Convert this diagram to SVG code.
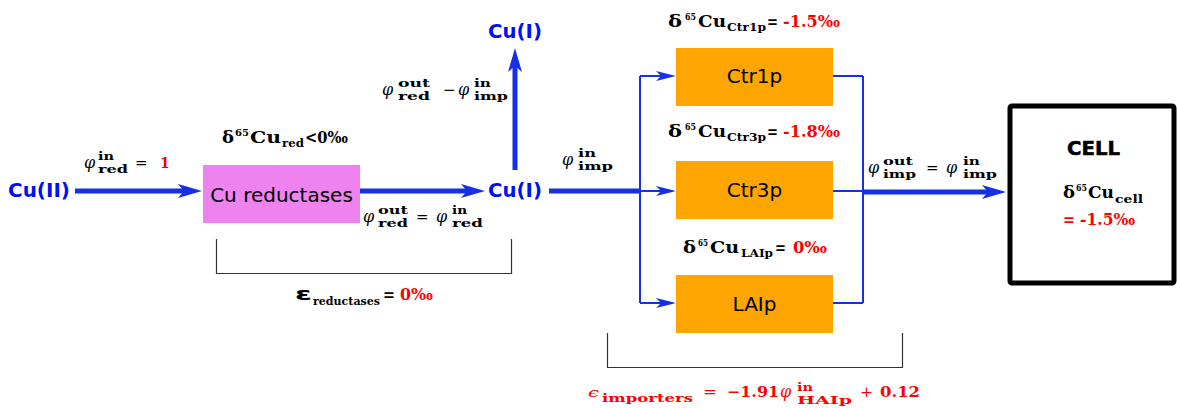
<svg xmlns="http://www.w3.org/2000/svg" width="1177" height="408" viewBox="0 0 1177 408">
<style>
.lbl{font-family:"DejaVu Sans",sans-serif;font-size:20px;fill:#000}
.cu{font-family:"DejaVu Sans",sans-serif;font-weight:bold;font-size:19px;fill:#0011EE}
.mi{font-family:"DejaVu Serif",serif;font-style:italic;font-size:16px;fill:#000}
.mb{font-family:"DejaVu Serif",serif;font-weight:bold;font-size:11px;fill:#000}
.op{font-family:"DejaVu Serif",serif;font-size:15px;fill:#000}
.db{font-family:"DejaVu Serif",serif;font-weight:bold;font-size:17px;fill:#000}
.ds{font-family:"DejaVu Serif",serif;font-weight:bold;font-size:10px;fill:#000}
.red{fill:#FF0000}
.thick{stroke:#1530E6;stroke-width:5;fill:none}
.thin{stroke:#1530E6;stroke-width:2;fill:none}
.brk{stroke:#333;stroke-width:1.2;fill:none}
</style>
<defs>
<marker id="ahT" markerUnits="userSpaceOnUse" markerWidth="24" markerHeight="14" refX="14" refY="7" orient="auto"><path d="M0,0 L24,7 L0,14 L6,7 z" fill="#1530E6"/></marker>
<marker id="ahS" markerUnits="userSpaceOnUse" markerWidth="20" markerHeight="10" refX="14" refY="5" orient="auto"><path d="M0,0 L20,5 L0,10 L5,5 z" fill="#1530E6"/></marker>
</defs>
<rect width="1177" height="408" fill="#fff"/>

<g id="connectors">
<line class="thick" x1="75" y1="191" x2="192" y2="191" marker-end="url(#ahT)"/>
<line class="thick" x1="360" y1="191" x2="475" y2="191" marker-end="url(#ahT)"/>
<line class="thick" x1="515" y1="170" x2="515" y2="58" marker-end="url(#ahT)"/>
<line class="thick" x1="549" y1="191" x2="641" y2="191"/>
<line class="thin" x1="640" y1="76" x2="640" y2="303"/>
<line class="thin" x1="640" y1="76" x2="670" y2="76" marker-end="url(#ahS)"/>
<line class="thin" x1="640" y1="191" x2="670" y2="191" marker-end="url(#ahS)"/>
<line class="thin" x1="640" y1="303" x2="670" y2="303" marker-end="url(#ahS)"/>
<line class="thin" x1="833" y1="76" x2="863" y2="76"/>
<line class="thin" x1="833" y1="191" x2="863" y2="191"/>
<line class="thin" x1="833" y1="303" x2="863" y2="303"/>
<line class="thin" x1="863" y1="76" x2="863" y2="303"/>
<line class="thick" x1="862" y1="192" x2="996" y2="192" marker-end="url(#ahT)"/>
</g>

<g id="cu2"><text class="cu" x="8" y="197" textLength="62" lengthAdjust="spacingAndGlyphs">Cu(II)</text></g>
<g id="cu1"><text class="cu" x="488" y="197" textLength="54" lengthAdjust="spacingAndGlyphs">Cu(I)</text></g>
<g id="cu1out"><text class="cu" x="488" y="38" textLength="54" lengthAdjust="spacingAndGlyphs">Cu(I)</text></g>

<g id="reductases">
<rect x="203" y="165" width="157" height="58" fill="#EE82EE"/>
<text class="lbl" x="281.5" y="202" text-anchor="middle">Cu reductases</text>
</g>
<g id="ctr1p">
<rect x="676" y="48" width="157" height="58" fill="#FFA500"/>
<text class="lbl" x="754.5" y="83" text-anchor="middle">Ctr1p</text>
</g>
<g id="ctr3p">
<rect x="676" y="161" width="157" height="58" fill="#FFA500"/>
<text class="lbl" x="754.5" y="197" text-anchor="middle">Ctr3p</text>
</g>
<g id="laip">
<rect x="676" y="275" width="157" height="58" fill="#FFA500"/>
<text class="lbl" x="754.5" y="311" text-anchor="middle">LAIp</text>
</g>
<g id="cell">
<rect x="1010" y="106" width="164" height="177" rx="2" fill="#fff" stroke="#000" stroke-width="5"/>
<text x="1067" y="155" style="font-family:'DejaVu Sans',sans-serif;font-weight:900;font-size:20px;stroke:#000;stroke-width:0.6" textLength="53" lengthAdjust="spacingAndGlyphs">CELL</text>
<text class="db" x="1063" y="198" textLength="12" lengthAdjust="spacingAndGlyphs">δ</text>
<text class="ds" x="1076" y="191" textLength="11" lengthAdjust="spacingAndGlyphs">65</text>
<text class="db" x="1088" y="198" textLength="26" lengthAdjust="spacingAndGlyphs">Cu</text>
<text class="mb" x="1115" y="203" textLength="28" lengthAdjust="spacingAndGlyphs">cell</text>
<text class="db red" x="1063" y="225" textLength="12" lengthAdjust="spacingAndGlyphs">=</text>
<text class="db red" x="1080" y="225" textLength="55" lengthAdjust="spacingAndGlyphs">-1.5‰</text>
</g>

<g id="label-phi-red-in">
<text class="mi" x="84" y="168">φ</text>
<text class="mb" x="98" y="160" textLength="16" lengthAdjust="spacingAndGlyphs">in</text>
<text class="mb" x="98" y="173" textLength="30" lengthAdjust="spacingAndGlyphs">red</text>
<text class="op" x="135" y="168">=</text>
<text class="mb red" x="160" y="168" style="font-size:14px">1</text>
</g>

<g id="label-delta-red">
<text class="db" x="222" y="143" textLength="12" lengthAdjust="spacingAndGlyphs">δ</text>
<text class="ds" x="235" y="136" textLength="14" lengthAdjust="spacingAndGlyphs">65</text>
<text class="db" x="250" y="143" textLength="31" lengthAdjust="spacingAndGlyphs">Cu</text>
<text class="mb" x="282" y="147" textLength="22" lengthAdjust="spacingAndGlyphs">red</text>
<text class="db" x="305" y="143" textLength="43" lengthAdjust="spacingAndGlyphs">&lt;0‰</text>
</g>

<g id="label-phi-red-out-eq">
<text class="mi" x="363" y="222">φ</text>
<text class="mb" x="378" y="214" textLength="30" lengthAdjust="spacingAndGlyphs">out</text>
<text class="mb" x="378" y="227" textLength="30" lengthAdjust="spacingAndGlyphs">red</text>
<text class="op" x="416" y="222">=</text>
<text class="mi" x="436" y="222">φ</text>
<text class="mb" x="452" y="214" textLength="15" lengthAdjust="spacingAndGlyphs">in</text>
<text class="mb" x="452" y="227" textLength="31" lengthAdjust="spacingAndGlyphs">red</text>
</g>

<g id="label-phi-diff">
<text class="mi" x="382" y="95">φ</text>
<text class="mb" x="398" y="87" textLength="32" lengthAdjust="spacingAndGlyphs">out</text>
<text class="mb" x="398" y="100" textLength="32" lengthAdjust="spacingAndGlyphs">red</text>
<text class="op" x="443" y="95">−</text>
<text class="mi" x="458" y="95">φ</text>
<text class="mb" x="474" y="87" textLength="17" lengthAdjust="spacingAndGlyphs">in</text>
<text class="mb" x="474" y="100" textLength="34" lengthAdjust="spacingAndGlyphs">imp</text>
</g>

<g id="label-phi-imp-in">
<text class="mi" x="562" y="165">φ</text>
<text class="mb" x="578" y="157" textLength="18" lengthAdjust="spacingAndGlyphs">in</text>
<text class="mb" x="578" y="170" textLength="35" lengthAdjust="spacingAndGlyphs">imp</text>
</g>

<g id="label-phi-imp-out-eq">
<text class="mi" x="868" y="173">φ</text>
<text class="mb" x="883" y="165" textLength="30" lengthAdjust="spacingAndGlyphs">out</text>
<text class="mb" x="883" y="178" textLength="33" lengthAdjust="spacingAndGlyphs">imp</text>
<text class="op" x="926" y="173">=</text>
<text class="mi" x="946" y="173">φ</text>
<text class="mb" x="963" y="165" textLength="17" lengthAdjust="spacingAndGlyphs">in</text>
<text class="mb" x="963" y="178" textLength="34" lengthAdjust="spacingAndGlyphs">imp</text>
</g>

<g id="label-delta-ctr1p">
<text class="db" x="668" y="27" textLength="14" lengthAdjust="spacingAndGlyphs">δ</text>
<text class="ds" x="685" y="20" textLength="11" lengthAdjust="spacingAndGlyphs">65</text>
<text class="db" x="698" y="27" textLength="28" lengthAdjust="spacingAndGlyphs">Cu</text>
<text class="mb" x="727" y="31" textLength="39" lengthAdjust="spacingAndGlyphs">Ctr1p</text>
<text class="db" x="767" y="27" textLength="11" lengthAdjust="spacingAndGlyphs">=</text>
<text class="db red" x="783" y="27" textLength="57" lengthAdjust="spacingAndGlyphs">-1.5‰</text>
</g>

<g id="label-delta-ctr3p">
<text class="db" x="668" y="137" textLength="14" lengthAdjust="spacingAndGlyphs">δ</text>
<text class="ds" x="685" y="130" textLength="11" lengthAdjust="spacingAndGlyphs">65</text>
<text class="db" x="698" y="137" textLength="28" lengthAdjust="spacingAndGlyphs">Cu</text>
<text class="mb" x="727" y="141" textLength="39" lengthAdjust="spacingAndGlyphs">Ctr3p</text>
<text class="db" x="767" y="137" textLength="11" lengthAdjust="spacingAndGlyphs">=</text>
<text class="db red" x="783" y="137" textLength="57" lengthAdjust="spacingAndGlyphs">-1.8‰</text>
</g>

<g id="label-delta-laip">
<text class="db" x="683" y="253" textLength="13" lengthAdjust="spacingAndGlyphs">δ</text>
<text class="ds" x="698" y="246" textLength="10" lengthAdjust="spacingAndGlyphs">65</text>
<text class="db" x="710" y="253" textLength="29" lengthAdjust="spacingAndGlyphs">Cu</text>
<text class="mb" x="741" y="257" textLength="32" lengthAdjust="spacingAndGlyphs">LAIp</text>
<text class="db" x="775" y="253" textLength="11" lengthAdjust="spacingAndGlyphs">=</text>
<text class="db red" x="793" y="253" textLength="34" lengthAdjust="spacingAndGlyphs">0‰</text>
</g>

<g id="bracket-reductases">
<path class="brk" d="M216.5,239 V273.5 H511.5 V239"/>
<text x="295" y="300" style="font-family:'DejaVu Sans',sans-serif;font-weight:bold;font-size:17px" textLength="17" lengthAdjust="spacingAndGlyphs">ε</text>
<text class="mb" x="313" y="305" textLength="67" lengthAdjust="spacingAndGlyphs">reductases</text>
<text class="db" x="383" y="300" textLength="12" lengthAdjust="spacingAndGlyphs">=</text>
<text class="db red" x="400" y="300" textLength="33" lengthAdjust="spacingAndGlyphs">0‰</text>
</g>

<g id="bracket-importers">
<path class="brk" d="M607.5,333 V367.5 H902.5 V333"/>
<text class="mi red" x="588" y="397" style="font-size:12px" textLength="11" lengthAdjust="spacingAndGlyphs">ϵ</text>
<text class="mb red" x="602" y="402" textLength="91" lengthAdjust="spacingAndGlyphs">importers</text>
<text class="op red" x="703" y="397" textLength="14" lengthAdjust="spacingAndGlyphs">=</text>
<text class="db red" x="727" y="397" style="font-size:15px" textLength="52" lengthAdjust="spacingAndGlyphs">−1.91</text>
<text class="mi red" x="780" y="397">φ</text>
<text class="mb red" x="797" y="391" textLength="16" lengthAdjust="spacingAndGlyphs">in</text>
<text class="mb red" x="797" y="404" textLength="55" lengthAdjust="spacingAndGlyphs">HAIp</text>
<text class="op red" x="860" y="397" textLength="13" lengthAdjust="spacingAndGlyphs">+</text>
<text class="db red" x="880" y="397" style="font-size:15px" textLength="40" lengthAdjust="spacingAndGlyphs">0.12</text>
</g>
</svg>
